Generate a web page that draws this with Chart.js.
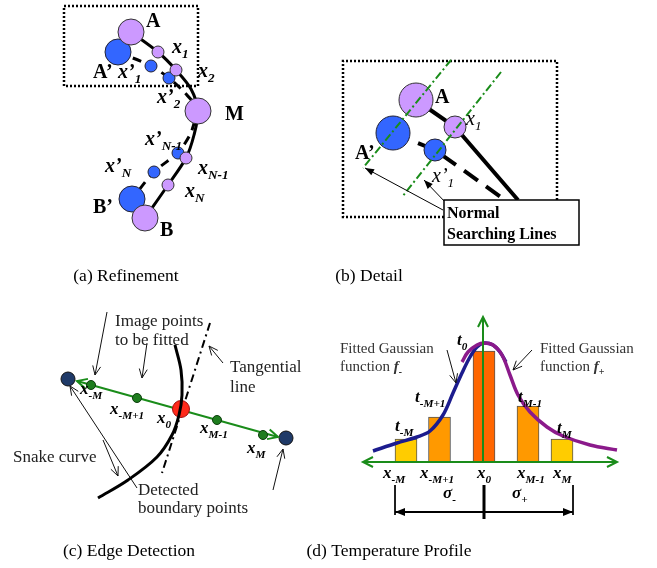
<!DOCTYPE html>
<html>
<head>
<meta charset="utf-8">
<script src="https://cdn.jsdelivr.net/npm/chart.js@4.4.1/dist/chart.umd.min.js"></script>
<style>
  html, body { margin: 0; padding: 0; background: #fff; }
  canvas { display: block; }
</style>
</head>
<body>
<canvas id="fig" width="657" height="568"></canvas>
<script>
// Figure space: x 0..657 to the right, y 0..568 downward.

// ---------- (a) Refinement ----------
const refinePurple = [[131,32,13],[158,52,6],[176,70,6],[198,111,13],[186,158,6],[168,185,6],[145,218,13]];
const refineBlue   = [[118,52,13],[151,66,6],[169,78,6],[178,153,6],[154,172,6],[132,199,13]];
const refineSnake  = [[131,32],[158,52],[176,70],[191,89],[198,111],[194,135],[186,158],[168,185],[145,218]];
const refineShift  = [[118,52],[151,66],[169,78],[185,93],[196,108],[192,130],[184,145],[178,153],[154,172],[132,199]];
const refineFrame  = [[64,6],[198,6],[198,86],[64,86],[64,6]];

// ---------- (b) Detail ----------
const detailPurple  = [[416,100,17],[455,127,11]];
const detailBlue    = [[393,133,17],[435,150,11]];
const detailSnake   = [[416,100],[455,127],[518,200]];
const detailShift   = [[393,133],[435,150],[505,200]];
const detailNormals = [[[451,60],[363,168]], [[501,72],[402,197]]];
const detailFrame   = [[444,217],[343,217],[343,61],[557,61],[557,200]];
const detailPointers = [[[443,210],[365,168]], [[447,204],[424,180]]];
const detailBox     = [444,200,579,245];

// ---------- (c) Edge Detection ----------
const edgeEnds     = [[68,379,7],[286,438,7]];
const edgeSamples  = [[91,385,4.5],[137,398,4.5],[217,420,4.5],[263,435,4.5]];
const edgeCenter   = [[181,409,8.5]];
const edgeNormal   = [[77,381],[278,437]];
const edgeSnake    = [[175,345],[181,370],[182,395],[179,415],[172,435],[157,457],[128,480],[98,498]];
const edgeTangent  = [[210,323],[162,473]];
const edgePointers = [
  [[107,312],[95,375]], [[147,343],[142,378]], [[223,363],[209,346]],
  [[137,488],[70,386]], [[103,440],[118,476]], [[273,490],[283,449]]
];

// ---------- (d) Temperature Profile ----------
const profileX    = [406, 439.5, 484, 528, 562];
const profileTop  = [439, 417, 351, 406, 439];
const profileBase = 462;
const profileFill = ['#ffcc00','#ff9900','#ff6600','#ff9900','#ffcc00'];
const fitMinus = [[373,451],[397,443],[417,437],[430,431],[443,415],[453,393],[462,373],[470,357],[477,347],[484,343],[493,345],[500,352],[506,362]];
const fitPlus  = [[462,362],[468,352],[477,345],[484,343],[493,345],[502,355],[510,375],[518,395],[530,412],[547,427],[563,436],[590,445],[617,450]];
const profileAxisH = [[363,462],[617,462]];
const profileAxisV = [[483,462],[483,317]];
const profileTicks = [[[395,485],[395,515]], [[573,485],[573,515]]];
const profileSplit = [[484,485],[484,519]];
const profileSpan  = [[395,512],[573,512]];
const profilePointers = [[[447,350],[456,383]], [[532,350],[513,370]]];

// ---------- text ----------
// [x, y(baseline), kind, text, subscript]
const labelsA = [
  [146,27,'pt','A'], [172,53,'sym','x','1'], [93,78,'pt','A’'], [118,78,'sym','x’','1'],
  [198,77,'sym','x','2'], [157,103,'sym','x’','2'], [225,120,'pt','M'],
  [145,145,'sym','x’','N-1'], [198,174,'sym','x','N-1'], [105,172,'sym','x’','N'],
  [185,197,'sym','x','N'], [93,213,'pt','B’'], [160,236,'pt','B']
];
const labelsB = [
  [435,103,'pt','A'], [466,125,'symI','x','1'], [355,159,'pt','A’'], [432,182,'symI','x’','1'],
  [447,218,'box','Normal'], [447,239,'box','Searching Lines']
];
const labelsC = [
  [115,326,'note','Image points'], [115,345,'note','to be fitted'],
  [230,372,'note','Tangential'], [230,392,'note','line'],
  [13,462,'note','Snake curve'], [138,495,'note','Detected'], [138,513,'note','boundary points'],
  [80,394,'symS','x','-M'], [110,414,'symS','x','-M+1'], [157,423,'symS','x','0'],
  [200,433,'symS','x','M-1'], [247,453,'symS','x','M']
];
const labelsD = [
  [340,353,'noteS','Fitted Gaussian'], [540,353,'noteS','Fitted Gaussian'],
  [457,345,'symS','t','0'], [415,402,'symS','t','-M+1'], [395,431,'symS','t','-M'],
  [518,402,'symS','t','M-1'], [557,433,'symS','t','M'],
  [383,478,'symS','x','-M'], [420,478,'symS','x','-M+1'], [477,478,'symS','x','0'],
  [517,478,'symS','x','M-1'], [553,478,'symS','x','M'],
  [443,498,'symS','σ','-'], [512,498,'symS','σ','+']
];
const fnLabels = [[340,371,'-'], [540,371,'+']];
const captions = [
  [126,281,'(a) Refinement'], [369,281,'(b) Detail'],
  [129,556,'(c) Edge Detection'], [389,556,'(d) Temperature Profile']
];

const SERIF = '"Liberation Serif","Times New Roman",serif';
const kinds = {
  pt:    {size:20, style:'bold',        color:'#000'},
  sym:   {size:20, style:'italic bold', color:'#000'},
  symI:  {size:20, style:'italic',      color:'#000'},
  box:   {size:16, style:'bold',        color:'#000'},
  note:  {size:17, style:'',            color:'#222'},
  noteS: {size:15, style:'',            color:'#333'},
  symS:  {size:17, style:'italic bold', color:'#000'}
};

// ---------- dataset helpers ----------
const pts = a => a.map(([x, y]) => ({x, y}));
const bub = a => a.map(([x, y, r]) => ({x, y, r}));
function path(points, color, width, extra) {
  return Object.assign({
    type: 'line', data: pts(points), borderColor: color, borderWidth: width,
    pointRadius: 0, tension: 0, fill: false, order: 3
  }, extra || {});
}
function dots(points, fill, edge, extra) {
  return Object.assign({
    type: 'bubble', data: bub(points), backgroundColor: fill,
    borderColor: edge, borderWidth: 1, order: 2
  }, extra || {});
}

const LAV = '#cc99ff', BLUE = '#3366ff', GREEN = '#1a8c1a';
const DOT = [2, 2], DASHDOT = [8, 3, 2, 3];

const datasets = [
  // (a)
  path(refineFrame, '#000', 2.5, {borderDash: DOT}),
  path(refineSnake, '#000', 3, {tension: 0.3, order: 4}),
  path(refineShift, '#000', 3, {tension: 0.3, borderDash: [9, 7], order: 4}),
  dots(refinePurple, LAV, '#333'),
  dots(refineBlue, BLUE, '#223'),
  // (b)
  path(detailFrame, '#000', 2.5, {borderDash: DOT}),
  path(detailSnake, '#000', 4, {order: 4}),
  path(detailShift, '#000', 4, {borderDash: [17, 10], order: 4}),
  dots(detailPurple, LAV, '#333'),
  dots(detailBlue, BLUE, '#223'),
  ...detailNormals.map(l => path(l, GREEN, 2, {borderDash: DASHDOT, order: 1})),
  // (c)
  path(edgeNormal, GREEN, 2, {arrow: 'both', head: [10, 5, 'open']}),
  path(edgeTangent, '#000', 2, {borderDash: [8, 4, 2, 4]}),
  path(edgeSnake, '#000', 3, {tension: 0.35, order: 1}),
  dots(edgeEnds, '#1f3a68', '#111'),
  dots(edgeSamples, '#1e7d1e', '#0c3d0c', {order: 1}),
  dots(edgeCenter, '#ff2a1a', '#a01010'),
  ...edgePointers.map(l => path(l, '#111', 1, {arrow: 'end', head: [9, 4, 'open']})),
  // (d)
  {
    type: 'bar', order: 5,
    data: profileX.map((x, i) => ({x, y: [profileBase, profileTop[i]]})),
    backgroundColor: profileFill, borderColor: '#555', borderWidth: 1,
    borderSkipped: false, barThickness: 22
  },
  path(fitMinus, '#1c1c8e', 3.5, {tension: 0.35, order: 3}),
  path(fitPlus, '#8b1a8b', 3.5, {tension: 0.35, order: 2}),
  path(profileAxisH, GREEN, 2, {arrow: 'both', head: [10, 5, 'open'], order: 1}),
  path(profileAxisV, GREEN, 2, {arrow: 'end', head: [10, 5, 'open'], order: 1}),
  ...profileTicks.map(l => path(l, '#000', 1)),
  path(profileSplit, '#000', 3),
  path(profileSpan, '#000', 2, {arrow: 'both', head: [10, 4, 'fill']}),
  ...profilePointers.map(l => path(l, '#111', 1, {arrow: 'end', head: [9, 4, 'open']})),
  // pointers out of the "Normal Searching Lines" box (b)
  ...detailPointers.map(l => path(l, '#000', 1, {arrow: 'end', head: [9, 3.5, 'fill'], order: 0}))
];

// ---------- drawing helpers ----------
function arrowHead(ctx, from, to, len, half, kind) {
  const a = Math.atan2(to.y - from.y, to.x - from.x);
  const bx = to.x - len * Math.cos(a), by = to.y - len * Math.sin(a);
  const px = -Math.sin(a) * half, py = Math.cos(a) * half;
  ctx.beginPath();
  ctx.moveTo(bx + px, by + py);
  ctx.lineTo(to.x, to.y);
  ctx.lineTo(bx - px, by - py);
  if (kind === 'fill') { ctx.closePath(); ctx.fill(); } else { ctx.stroke(); }
}

function textRun(ctx, parts, x, y, size, color, align) {
  const spec = parts.map(([t, style, sub]) => {
    const sz = sub ? size * 0.66 : size;
    const f = `${style || ''} ${sz}px ${SERIF}`;
    ctx.font = f;
    return {t, f, w: ctx.measureText(t).width + (sub ? 0.5 : 0), dy: sub ? size * 0.27 : 0};
  });
  const total = spec.reduce((s, p) => s + p.w, 0);
  let cx = align === 'center' ? x - total / 2 : x;
  ctx.fillStyle = color;
  ctx.textAlign = 'left';
  ctx.textBaseline = 'alphabetic';
  for (const p of spec) { ctx.font = p.f; ctx.fillText(p.t, cx, y + p.dy); cx += p.w; }
}

const annotate = {
  id: 'annotate',
  afterDatasetsDraw(chart) {
    const ctx = chart.ctx, sx = chart.scales.x, sy = chart.scales.y;
    const X = v => sx.getPixelForValue(v), Y = v => sy.getPixelForValue(v);
    ctx.save();

    // label box of (b)
    const [bx1, by1, bx2, by2] = detailBox;
    ctx.fillStyle = '#fff';
    ctx.strokeStyle = '#000';
    ctx.lineWidth = 1.5;
    ctx.fillRect(X(bx1), Y(by1), X(bx2) - X(bx1), Y(by2) - Y(by1));
    ctx.strokeRect(X(bx1), Y(by1), X(bx2) - X(bx1), Y(by2) - Y(by1));

    // arrow heads on the datasets that ask for them
    chart.data.datasets.forEach((ds, i) => {
      if (!ds.arrow) return;
      const el = chart.getDatasetMeta(i).data;
      const [len, half, kind] = ds.head;
      ctx.strokeStyle = ds.borderColor;
      ctx.fillStyle = ds.borderColor;
      ctx.lineWidth = ds.borderWidth;
      ctx.setLineDash([]);
      if (ds.arrow === 'end' || ds.arrow === 'both') arrowHead(ctx, el[el.length - 2], el[el.length - 1], len, half, kind);
      if (ds.arrow === 'start' || ds.arrow === 'both') arrowHead(ctx, el[1], el[0], len, half, kind);
    });

    [...labelsA, ...labelsB, ...labelsC, ...labelsD].forEach(([x, y, k, t, sub]) => {
      const s = kinds[k];
      const parts = [[t, s.style]];
      if (sub) parts.push([sub, s.style, true]);
      textRun(ctx, parts, X(x), Y(y), s.size, s.color, 'left');
    });
    fnLabels.forEach(([x, y, sign]) => {
      textRun(ctx, [['function ', ''], ['f', 'italic bold'], [sign, 'italic bold', true]],
              X(x), Y(y), 15, '#333', 'left');
    });
    captions.forEach(([x, y, t]) => textRun(ctx, [[t, '']], X(x), Y(y), 17.5, '#000', 'center'));
    ctx.restore();
  }
};

new Chart(document.getElementById('fig'), {
  type: 'scatter',
  data: {datasets},
  options: {
    responsive: false,
    animation: false,
    events: [],
    layout: {padding: 0, autoPadding: false},
    scales: {
      x: {type: 'linear', min: 0, max: 657, display: false, offset: false},
      y: {type: 'linear', min: 0, max: 568, reverse: true, display: false, offset: false}
    },
    plugins: {legend: {display: false}, tooltip: {enabled: false}}
  },
  plugins: [annotate]
});
</script>
</body>
</html>
